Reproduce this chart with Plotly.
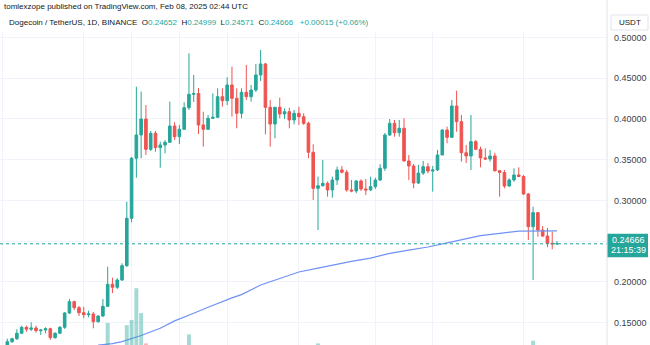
import pandas as pd
import plotly.graph_objects as go

# ---- DOGE/USDT daily candles, 2024-10-16 .. 2025-02-08 (Binance) ----
first_day = "2024-10-16"

open_ = [
    0.1224, 0.1264, 0.1301, 0.1368, 0.1441, 0.1417, 0.1433, 0.1400, 0.1408, 0.1424,
    0.1314, 0.1368, 0.1441, 0.1617, 0.1756, 0.1682, 0.1620, 0.1596, 0.1605, 0.1510,
    0.1580, 0.1699, 0.1969, 0.1932, 0.2022, 0.2198, 0.2780, 0.3517, 0.3803, 0.3999,
    0.3627, 0.3824, 0.3647, 0.3680, 0.3713, 0.3913, 0.3782, 0.3873, 0.4138, 0.4302,
    0.4312, 0.3926, 0.3873, 0.4008, 0.4020, 0.4273, 0.4224, 0.4417, 0.4254, 0.4069,
    0.4327, 0.4273, 0.4355, 0.4540, 0.4675, 0.4143, 0.3938, 0.4143, 0.4061, 0.4089,
    0.3987, 0.4069, 0.4027, 0.3946, 0.3590, 0.3148, 0.3180, 0.3210, 0.3128, 0.3250,
    0.3373, 0.3345, 0.3128, 0.3115, 0.3238, 0.3140, 0.3128, 0.3168, 0.3250, 0.3394,
    0.3803, 0.3946, 0.3831, 0.3885, 0.3484, 0.3422, 0.3213, 0.3335, 0.3413, 0.3360,
    0.3373, 0.3557, 0.3864, 0.3774, 0.4159, 0.3966, 0.3585, 0.3545, 0.3721, 0.3627,
    0.3521, 0.3508, 0.3545, 0.3364, 0.3342, 0.3176, 0.3250, 0.3312, 0.3293, 0.3078,
    0.2677, 0.2849, 0.2636, 0.2562, 0.2473, 0.24652,
]
high = [
    0.1301, 0.1314, 0.1417, 0.1461, 0.1461, 0.1503, 0.1461, 0.1417, 0.1441, 0.1436,
    0.1380, 0.1457, 0.1629, 0.1789, 0.1768, 0.1703, 0.1694, 0.1645, 0.1629, 0.1589,
    0.1789, 0.2185, 0.2050, 0.2043, 0.2227, 0.2984, 0.3533, 0.4396, 0.4335, 0.4171,
    0.3852, 0.3852, 0.3721, 0.3741, 0.4212, 0.3959, 0.3926, 0.4204, 0.4806, 0.4540,
    0.4380, 0.4089, 0.4048, 0.4315, 0.4376, 0.4376, 0.4511, 0.4642, 0.4376, 0.4376,
    0.4662, 0.4417, 0.4675, 0.4847, 0.4687, 0.4233, 0.4147, 0.4261, 0.4130, 0.4138,
    0.4110, 0.4150, 0.4069, 0.3966, 0.3689, 0.3291, 0.3496, 0.3231, 0.3291, 0.3414,
    0.3422, 0.3373, 0.3250, 0.3250, 0.3259, 0.3262, 0.3291, 0.3278, 0.3443, 0.3828,
    0.3999, 0.3987, 0.3987, 0.4008, 0.3557, 0.3447, 0.3435, 0.3484, 0.3459, 0.3422,
    0.3619, 0.3873, 0.3905, 0.4233, 0.4347, 0.4048, 0.3680, 0.4048, 0.3741, 0.3659,
    0.3639, 0.3619, 0.3585, 0.3373, 0.3373, 0.3271, 0.3394, 0.3406, 0.3312, 0.3090,
    0.2922, 0.2857, 0.2685, 0.2661, 0.2615, 0.24999,
]
low = [
    0.1215, 0.1249, 0.1286, 0.1360, 0.1387, 0.1396, 0.1375, 0.1347, 0.1368, 0.1286,
    0.1301, 0.1359, 0.1421, 0.1605, 0.1654, 0.1580, 0.1552, 0.1564, 0.1429, 0.1498,
    0.1568, 0.1691, 0.1862, 0.1912, 0.2010, 0.2182, 0.2731, 0.3278, 0.3517, 0.3557,
    0.3606, 0.3598, 0.3401, 0.3578, 0.3705, 0.3741, 0.3692, 0.3864, 0.4110, 0.4208,
    0.3815, 0.3659, 0.3864, 0.4000, 0.4012, 0.4150, 0.4171, 0.4027, 0.3885, 0.4008,
    0.4233, 0.4212, 0.4331, 0.4466, 0.3811, 0.3659, 0.3762, 0.4008, 0.3999, 0.3885,
    0.3934, 0.3926, 0.3926, 0.3517, 0.3005, 0.2636, 0.3168, 0.3045, 0.3033, 0.3189,
    0.3332, 0.3107, 0.3099, 0.3087, 0.3115, 0.3066, 0.3115, 0.3140, 0.3238, 0.3361,
    0.3791, 0.3782, 0.3782, 0.3475, 0.3250, 0.3148, 0.3201, 0.3312, 0.3332, 0.3107,
    0.3361, 0.3557, 0.3701, 0.3766, 0.3843, 0.3475, 0.3459, 0.3373, 0.3619, 0.3406,
    0.3496, 0.3475, 0.3352, 0.3045, 0.3148, 0.3168, 0.3229, 0.3287, 0.3066, 0.2513,
    0.2022, 0.2554, 0.2550, 0.2424, 0.2399, 0.24571,
]
close = [
    0.1264, 0.1301, 0.1368, 0.1441, 0.1417, 0.1433, 0.1400, 0.1408, 0.1424, 0.1314,
    0.1368, 0.1441, 0.1617, 0.1756, 0.1682, 0.1620, 0.1596, 0.1605, 0.1510, 0.1580,
    0.1699, 0.1969, 0.1932, 0.2022, 0.2198, 0.2780, 0.3517, 0.3803, 0.3999, 0.3627,
    0.3824, 0.3647, 0.3680, 0.3713, 0.3913, 0.3782, 0.3873, 0.4138, 0.4302, 0.4312,
    0.3926, 0.3873, 0.4008, 0.4020, 0.4273, 0.4224, 0.4417, 0.4254, 0.4069, 0.4327,
    0.4273, 0.4355, 0.4540, 0.4675, 0.4143, 0.3938, 0.4143, 0.4061, 0.4089, 0.3987,
    0.4069, 0.4027, 0.3946, 0.3590, 0.3148, 0.3180, 0.3210, 0.3128, 0.3250, 0.3373,
    0.3345, 0.3128, 0.3115, 0.3238, 0.3140, 0.3128, 0.3168, 0.3250, 0.3394, 0.3803,
    0.3946, 0.3831, 0.3885, 0.3484, 0.3422, 0.3213, 0.3335, 0.3413, 0.3360, 0.3373,
    0.3557, 0.3864, 0.3774, 0.4159, 0.3966, 0.3585, 0.3545, 0.3721, 0.3627, 0.3521,
    0.3508, 0.3545, 0.3364, 0.3342, 0.3176, 0.3250, 0.3312, 0.3293, 0.3078, 0.2677,
    0.2849, 0.2636, 0.2562, 0.2473, 0.24652, 0.24666,
]

# long moving average, sampled at these candle positions (day offsets from first_day)
ma_day = [19, 22, 24, 28, 32, 35, 39, 42, 47, 49, 53, 57, 61, 65, 70, 72, 76, 80,
          84, 88, 93, 95, 99, 103, 107, 115]
ma_value = [0.1222, 0.1240, 0.1266, 0.1340, 0.1430, 0.1520, 0.1613, 0.1688, 0.1802,
            0.1842, 0.1961, 0.2043, 0.2120, 0.2168, 0.2231, 0.2250, 0.2290, 0.2349,
            0.2388, 0.2427, 0.2490, 0.2515, 0.2567, 0.2595, 0.2622, 0.2624]

# volume (billion DOGE) for the heaviest sessions
vol_day = [21, 25, 26, 27, 28, 29, 38, 65, 110]
vol_value = [19.0, 18.3, 20.0, 30.6, 22.3, 12.2, 15.2, 12.2, 13.1]

price_ticks = [0.15, 0.20, 0.25, 0.30, 0.35, 0.40, 0.45, 0.50]
grid_days = ["2024-10-15", "2024-11-01", "2024-11-11", "2024-11-21", "2024-12-01",
             "2024-12-16", "2025-01-01", "2025-01-13", "2025-02-01"]

header_line = "tomlexzope published on TradingView.com, Feb 08, 2025 02:44 UTC"
symbol_line = "Dogecoin / TetherUS, 1D, BINANCE"
ohlc_labels = ["O", "H", "L", "C"]
last_ohlc = [open_[-1], high[-1], low[-1], close[-1]]
last_change = "+0.00015 (+0.06%)"
countdown = "21:15:39"

# ---- geometry ----
W, H = 650, 345
ML, MR, MT, MB = 0, 43, 32, 0
plot_w = W - ML - MR
plot_h = H - MT - MB
y_lo, y_hi = 0.12237, 0.50675
day_px = 4.78
first_px = 7.3

UP, DOWN = "#26a69a", "#ef5350"
TEXT = "#131722"
GRID = "#f0f3fa"
FONT = "Liberation Sans"

t0 = pd.Timestamp(first_day)
dates = pd.date_range(t0, periods=len(close), freq="D")
day = pd.Timedelta(days=1)
x_left = t0 - day * (first_px / day_px)
x_right = t0 + day * ((plot_w - first_px) / day_px)

fig = go.Figure()

# volume overlay, baseline sits below the visible pane
vol_colors = []
for d in vol_day:
    vol_colors.append("rgba(38,166,154,0.42)" if close[d] >= open_[d] else "rgba(239,83,80,0.42)")
fig.add_trace(go.Bar(
    x=[dates[d] for d in vol_day], y=vol_value, yaxis="y2",
    marker=dict(color=vol_colors, line=dict(width=0)),
    width=0.82 * 86400000, hoverinfo="skip", showlegend=False,
))

fig.add_trace(go.Candlestick(
    x=dates, open=open_, high=high, low=low, close=close,
    increasing=dict(line=dict(color=UP, width=1), fillcolor=UP),
    decreasing=dict(line=dict(color=DOWN, width=1), fillcolor=DOWN),
    whiskerwidth=0, showlegend=False,
))

fig.add_trace(go.Scatter(
    x=[dates[d] for d in ma_day], y=ma_value, mode="lines",
    line=dict(color="#6f92f4", width=1.2), hoverinfo="skip", showlegend=False,
))

# last price dotted line
last = close[-1]
fig.add_shape(type="line", xref="paper", yref="y", x0=0, x1=1, y0=last, y1=last,
              line=dict(color=UP, width=1, dash="dot"))

# right scale separator
fig.add_shape(type="line", xref="paper", yref="paper", x0=1, x1=1, y0=0, y1=1.11,
              line=dict(color="#e0e3eb", width=1))

ppu = plot_h / (y_hi - y_lo)


def px_x(px):
    return (px - ML) / plot_w


def px_y(py):
    return (H - MB - py) / plot_h


# last price tag on the scale
fig.add_shape(type="rect", xref="paper", yref="y",
              x0=px_x(607.5), x1=px_x(648), y0=last - 13.4 / ppu, y1=last + 10 / ppu,
              line=dict(width=0), fillcolor=UP, layer="above")
fig.add_annotation(xref="paper", yref="y", x=px_x(628), y=last + 4 / ppu,
                   xanchor="center", yanchor="middle",
                   text=f"{last:.5f}", showarrow=False,
                   font=dict(family=FONT, size=9, color="white"))
fig.add_annotation(xref="paper", yref="y", x=px_x(628), y=last - 6.5 / ppu,
                   xanchor="center", yanchor="middle",
                   text=countdown, showarrow=False,
                   font=dict(family=FONT, size=9, color="white"))

# currency box
fig.add_shape(type="rect", xref="paper", yref="paper",
              x0=px_x(611), x1=px_x(648), y0=px_y(30), y1=px_y(15),
              line=dict(color="#e0e3eb", width=1), fillcolor="white")
fig.add_annotation(xref="paper", yref="paper", x=px_x(629.5), y=px_y(22.5),
                   xanchor="center", yanchor="middle",
                   text="USDT", showarrow=False,
                   font=dict(family=FONT, size=8, color=TEXT))

# header
fig.add_annotation(xref="paper", yref="paper", x=px_x(2), y=px_y(7),
                   xanchor="left", yanchor="middle", text=header_line, showarrow=False,
                   font=dict(family=FONT, size=8, color=TEXT))
gap = "\u00a0\u00a0"
legend_text = symbol_line + gap
legend_text += gap.join(f"{lab}<span style='color:{UP}'>{val:.5f}</span>"
                        for lab, val in zip(ohlc_labels, last_ohlc))
legend_text += gap + "\u00a0" + f"<span style='color:{UP}'>{last_change}</span>"
fig.add_annotation(xref="paper", yref="paper", x=px_x(7), y=px_y(22.5),
                   xanchor="left", yanchor="middle",
                   text=legend_text, showarrow=False,
                   font=dict(family=FONT, size=8, color=TEXT))

fig.update_layout(
    width=W, height=H,
    margin=dict(l=ML, r=MR, t=MT, b=MB),
    paper_bgcolor="white", plot_bgcolor="white",
    boxgap=0.22,
    xaxis=dict(
        type="date", range=[x_left, x_right],
        tickvals=grid_days, showticklabels=False, ticks="",
        showgrid=True, gridcolor=GRID, gridwidth=1,
        zeroline=False, showline=False,
        rangeslider=dict(visible=False),
    ),
    yaxis=dict(
        side="right", range=[y_lo, y_hi],
        tickvals=price_ticks,
        ticktext=["" if abs(v - 0.25) < 1e-9 else f"{v:.5f}" for v in price_ticks],
        tickfont=dict(family=FONT, size=9, color="#3b3f4a"),
        ticks="", ticklabelstandoff=6,
        showgrid=True, gridcolor=GRID, gridwidth=1,
        zeroline=False, showline=False,
    ),
    # volume scale: 3 px per billion, zero sits 35 px below the pane bottom
    yaxis2=dict(overlaying="y", range=[35 / 3, (35 + plot_h) / 3],
                visible=False, fixedrange=True),
    showlegend=False,
)

fig.write_html("out.html")
